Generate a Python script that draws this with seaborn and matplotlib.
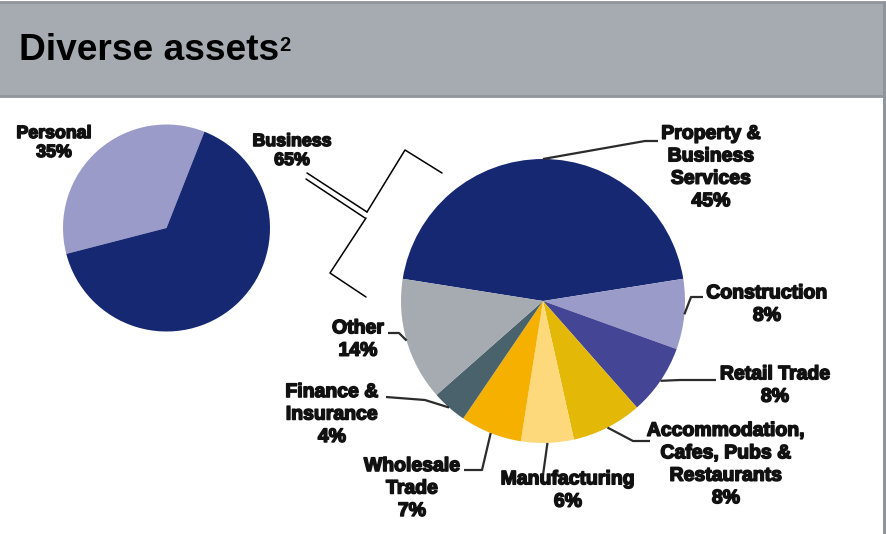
import matplotlib
matplotlib.use("Agg")
import matplotlib.pyplot as plt
from matplotlib.patches import Rectangle
import matplotlib.patheffects as pe
import numpy as np
import seaborn as sns

# ---- data -------------------------------------------------------------
split_labels = ["Personal", "Business"]
split_values = [35, 65]

sector_labels = [
    "Property &\nBusiness\nServices",
    "Construction",
    "Retail Trade",
    "Accommodation,\nCafes, Pubs &\nRestaurants",
    "Manufacturing",
    "Wholesale\nTrade",
    "Finance &\nInsurance",
    "Other",
]
sector_values = [45, 8, 8, 8, 6, 7, 4, 14]

# ---- style ------------------------------------------------------------
sns.set_theme(style="white")
plt.rcParams["font.family"] = ["Liberation Sans", "DejaVu Sans"]

navy = "#172873"
lavender = "#9b9bc9"
split_colors = sns.color_palette([lavender, navy])
sector_colors = sns.color_palette([
    navy, lavender, "#454596", "#e4b806", "#fdd97c", "#f5b000", "#4a626c", "#a5abb1",
])

W, H = 887, 534
fig = plt.figure(figsize=(W / 100, H / 100), dpi=100)
ax = fig.add_axes([0, 0, 1, 1])


def fy(y):
    """Flip a top-down pixel row into the axes' upward y coordinate."""
    return H - y


# header band
ax.add_patch(Rectangle((-2, fy(96)), 886, 94, facecolor="#a5abb1",
                       edgecolor="#8f959b", linewidth=2, zorder=1))
ax.plot([884, 884], [fy(2), fy(534)], color="#8f959b", lw=2.2, zorder=2)
title = ax.text(19, fy(60), "Diverse assets", fontsize=26.7, fontweight="bold",
                color="#000000", ha="left", va="baseline", zorder=3)
ax.annotate("2", xy=(1, 1), xycoords=title, xytext=(0.4, -2.2),
            textcoords="offset points", fontsize=14.5, fontweight="bold",
            color="#000000", ha="left", va="top", zorder=3)

heavy = [pe.withStroke(linewidth=1.1, foreground="#111111")]
lab_kw = dict(fontweight="bold", color="#111111", ha="center", va="center",
              path_effects=heavy, zorder=5)

# ---- left pie: personal vs business --------------------------------------
lc, lr = (166.5, fy(228)), 103.5
ax.pie(split_values, colors=split_colors, startangle=68.5, counterclock=True,
       center=lc, radius=lr, wedgeprops=dict(linewidth=0))

left_text_pos = [(54, 143), (292, 151)]
for name, val, (tx, ty) in zip(split_labels, split_values, left_text_pos):
    ax.text(tx, fy(ty), f"{name}\n{val}%", fontsize=12.8, linespacing=1.15,
            **lab_kw)

# ---- right pie: business sectors -----------------------------------------
rc, rr = (543, fy(301)), 142
wedges, _ = ax.pie(sector_values, colors=sector_colors, startangle=171,
                   counterclock=False, center=rc, radius=rr,
                   wedgeprops=dict(linewidth=0))

# label block centre, leader elbow, leader end (pixel rows top-down)
layout = [
    ((711, 168), (645, 141), (658, 141)),
    ((767, 305), (691, 297), (703, 297)),
    ((775, 386), (680, 380), (716, 380)),
    ((726, 465), (633, 441), (650, 441)),
    ((568, 491), None, (543, 475)),
    ((412, 489), (482, 470), (464, 470)),
    ((332, 415), (425, 400), (386, 397)),
    ((358, 340), (399, 333), (388, 333)),
]

for w, name, val, ((tx, ty), elbow, end) in zip(wedges, sector_labels,
                                                sector_values, layout):
    mid = np.deg2rad((w.theta1 + w.theta2) / 2)
    sx = rc[0] + rr * np.cos(mid)
    sy = rc[1] + rr * np.sin(mid)
    xs, ys = [sx], [sy]
    if elbow is not None:
        xs.append(elbow[0]); ys.append(fy(elbow[1]))
    xs.append(end[0]); ys.append(fy(end[1]))
    ax.plot(xs, ys, color="#2b2b2b", lw=1.6, zorder=4, solid_capstyle="butt")
    ax.text(tx, fy(ty), f"{name}\n{val}%", fontsize=14.0, linespacing=1.42,
            **lab_kw)

# ---- bracket linking "Business" to the sector breakdown --------------------
bk = dict(color="#000000", lw=1.1, zorder=4)
ax.plot([307, 367], [fy(173), fy(212)], **bk)
ax.plot([306, 365], [fy(179), fy(218)], **bk)
ax.plot([367, 405, 442], [fy(212), fy(150), fy(173)], **bk)
ax.plot([366, 330, 366], [fy(218), fy(273), fy(297)], **bk)

ax.set_xlim(0, W)
ax.set_ylim(0, H)
ax.set_aspect("auto")
ax.axis("off")
fig.savefig("out.png", dpi=100, facecolor="white")
